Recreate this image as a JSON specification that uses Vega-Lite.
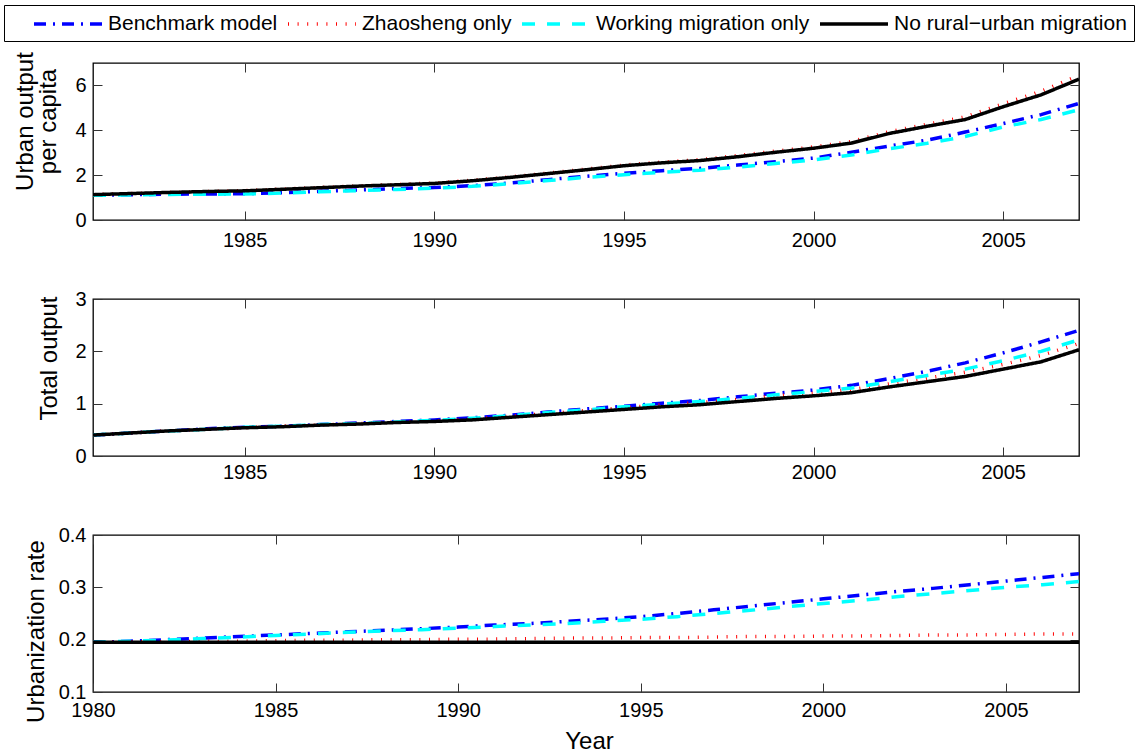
{
  "$schema": "https://vega.github.io/schema/vega-lite/v6.json",
  "background": "white",
  "padding": {"left": 3, "top": 4, "right": 0, "bottom": 0},
  "spacing": 79,
  "bounds": "flush",
  "datasets": {
    "top": [
      {"year": 1981, "Benchmark model": 1.10, "Zhaosheng only": 1.13, "Working migration only": 1.10, "No rural−urban migration": 1.13},
      {"year": 1982, "Benchmark model": 1.13, "Zhaosheng only": 1.18, "Working migration only": 1.12, "No rural−urban migration": 1.18},
      {"year": 1983, "Benchmark model": 1.15, "Zhaosheng only": 1.23, "Working migration only": 1.14, "No rural−urban migration": 1.23},
      {"year": 1984, "Benchmark model": 1.16, "Zhaosheng only": 1.27, "Working migration only": 1.15, "No rural−urban migration": 1.27},
      {"year": 1985, "Benchmark model": 1.17, "Zhaosheng only": 1.31, "Working migration only": 1.16, "No rural−urban migration": 1.30},
      {"year": 1986, "Benchmark model": 1.22, "Zhaosheng only": 1.38, "Working migration only": 1.20, "No rural−urban migration": 1.37},
      {"year": 1987, "Benchmark model": 1.28, "Zhaosheng only": 1.45, "Working migration only": 1.26, "No rural−urban migration": 1.44},
      {"year": 1988, "Benchmark model": 1.34, "Zhaosheng only": 1.52, "Working migration only": 1.31, "No rural−urban migration": 1.51},
      {"year": 1989, "Benchmark model": 1.40, "Zhaosheng only": 1.58, "Working migration only": 1.36, "No rural−urban migration": 1.57},
      {"year": 1990, "Benchmark model": 1.45, "Zhaosheng only": 1.65, "Working migration only": 1.42, "No rural−urban migration": 1.63},
      {"year": 1991, "Benchmark model": 1.53, "Zhaosheng only": 1.77, "Working migration only": 1.50, "No rural−urban migration": 1.75},
      {"year": 1992, "Benchmark model": 1.65, "Zhaosheng only": 1.92, "Working migration only": 1.62, "No rural−urban migration": 1.90},
      {"year": 1993, "Benchmark model": 1.80, "Zhaosheng only": 2.09, "Working migration only": 1.76, "No rural−urban migration": 2.07},
      {"year": 1994, "Benchmark model": 1.95, "Zhaosheng only": 2.27, "Working migration only": 1.90, "No rural−urban migration": 2.24},
      {"year": 1995, "Benchmark model": 2.08, "Zhaosheng only": 2.45, "Working migration only": 2.02, "No rural−urban migration": 2.42},
      {"year": 1996, "Benchmark model": 2.20, "Zhaosheng only": 2.58, "Working migration only": 2.13, "No rural−urban migration": 2.55},
      {"year": 1997, "Benchmark model": 2.30, "Zhaosheng only": 2.69, "Working migration only": 2.22, "No rural−urban migration": 2.65},
      {"year": 1998, "Benchmark model": 2.45, "Zhaosheng only": 2.87, "Working migration only": 2.36, "No rural−urban migration": 2.82},
      {"year": 1999, "Benchmark model": 2.60, "Zhaosheng only": 3.07, "Working migration only": 2.52, "No rural−urban migration": 3.02},
      {"year": 2000, "Benchmark model": 2.76, "Zhaosheng only": 3.26, "Working migration only": 2.68, "No rural−urban migration": 3.20},
      {"year": 2001, "Benchmark model": 3.02, "Zhaosheng only": 3.50, "Working migration only": 2.90, "No rural−urban migration": 3.43},
      {"year": 2002, "Benchmark model": 3.30, "Zhaosheng only": 3.94, "Working migration only": 3.18, "No rural−urban migration": 3.86},
      {"year": 2003, "Benchmark model": 3.56, "Zhaosheng only": 4.27, "Working migration only": 3.42, "No rural−urban migration": 4.18},
      {"year": 2004, "Benchmark model": 3.92, "Zhaosheng only": 4.60, "Working migration only": 3.72, "No rural−urban migration": 4.48},
      {"year": 2005, "Benchmark model": 4.30, "Zhaosheng only": 5.18, "Working migration only": 4.15, "No rural−urban migration": 5.05},
      {"year": 2006, "Benchmark model": 4.70, "Zhaosheng only": 5.74, "Working migration only": 4.48, "No rural−urban migration": 5.58},
      {"year": 2007, "Benchmark model": 5.20, "Zhaosheng only": 6.45, "Working migration only": 4.92, "No rural−urban migration": 6.28}
    ],
    "mid": [
      {"year": 1981, "Benchmark model": 0.40, "Zhaosheng only": 0.40, "Working migration only": 0.40, "No rural−urban migration": 0.40},
      {"year": 1982, "Benchmark model": 0.44, "Zhaosheng only": 0.44, "Working migration only": 0.44, "No rural−urban migration": 0.44},
      {"year": 1983, "Benchmark model": 0.48, "Zhaosheng only": 0.48, "Working migration only": 0.48, "No rural−urban migration": 0.48},
      {"year": 1984, "Benchmark model": 0.52, "Zhaosheng only": 0.51, "Working migration only": 0.51, "No rural−urban migration": 0.51},
      {"year": 1985, "Benchmark model": 0.55, "Zhaosheng only": 0.54, "Working migration only": 0.55, "No rural−urban migration": 0.54},
      {"year": 1986, "Benchmark model": 0.57, "Zhaosheng only": 0.57, "Working migration only": 0.57, "No rural−urban migration": 0.56},
      {"year": 1987, "Benchmark model": 0.60, "Zhaosheng only": 0.59, "Working migration only": 0.60, "No rural−urban migration": 0.59},
      {"year": 1988, "Benchmark model": 0.63, "Zhaosheng only": 0.62, "Working migration only": 0.62, "No rural−urban migration": 0.61},
      {"year": 1989, "Benchmark model": 0.66, "Zhaosheng only": 0.65, "Working migration only": 0.65, "No rural−urban migration": 0.64},
      {"year": 1990, "Benchmark model": 0.69, "Zhaosheng only": 0.67, "Working migration only": 0.68, "No rural−urban migration": 0.66},
      {"year": 1991, "Benchmark model": 0.73, "Zhaosheng only": 0.71, "Working migration only": 0.72, "No rural−urban migration": 0.69},
      {"year": 1992, "Benchmark model": 0.78, "Zhaosheng only": 0.76, "Working migration only": 0.77, "No rural−urban migration": 0.74},
      {"year": 1993, "Benchmark model": 0.84, "Zhaosheng only": 0.81, "Working migration only": 0.83, "No rural−urban migration": 0.79},
      {"year": 1994, "Benchmark model": 0.90, "Zhaosheng only": 0.87, "Working migration only": 0.88, "No rural−urban migration": 0.84},
      {"year": 1995, "Benchmark model": 0.95, "Zhaosheng only": 0.92, "Working migration only": 0.94, "No rural−urban migration": 0.89},
      {"year": 1996, "Benchmark model": 1.01, "Zhaosheng only": 0.98, "Working migration only": 0.99, "No rural−urban migration": 0.94},
      {"year": 1997, "Benchmark model": 1.06, "Zhaosheng only": 1.02, "Working migration only": 1.04, "No rural−urban migration": 0.98},
      {"year": 1998, "Benchmark model": 1.13, "Zhaosheng only": 1.08, "Working migration only": 1.10, "No rural−urban migration": 1.04},
      {"year": 1999, "Benchmark model": 1.20, "Zhaosheng only": 1.15, "Working migration only": 1.17, "No rural−urban migration": 1.10},
      {"year": 2000, "Benchmark model": 1.26, "Zhaosheng only": 1.20, "Working migration only": 1.23, "No rural−urban migration": 1.15},
      {"year": 2001, "Benchmark model": 1.35, "Zhaosheng only": 1.27, "Working migration only": 1.30, "No rural−urban migration": 1.21},
      {"year": 2002, "Benchmark model": 1.48, "Zhaosheng only": 1.38, "Working migration only": 1.42, "No rural−urban migration": 1.32},
      {"year": 2003, "Benchmark model": 1.62, "Zhaosheng only": 1.49, "Working migration only": 1.54, "No rural−urban migration": 1.42},
      {"year": 2004, "Benchmark model": 1.78, "Zhaosheng only": 1.60, "Working migration only": 1.66, "No rural−urban migration": 1.52},
      {"year": 2005, "Benchmark model": 1.97, "Zhaosheng only": 1.75, "Working migration only": 1.82, "No rural−urban migration": 1.66},
      {"year": 2006, "Benchmark model": 2.18, "Zhaosheng only": 1.92, "Working migration only": 2.00, "No rural−urban migration": 1.80},
      {"year": 2007, "Benchmark model": 2.40, "Zhaosheng only": 2.15, "Working migration only": 2.22, "No rural−urban migration": 2.03}
    ],
    "bot": [
      {"year": 1980, "Benchmark model": 0.195, "Zhaosheng only": 0.195, "Working migration only": 0.195, "No rural−urban migration": 0.195},
      {"year": 1981, "Benchmark model": 0.197, "Zhaosheng only": 0.196, "Working migration only": 0.197, "No rural−urban migration": 0.195},
      {"year": 1982, "Benchmark model": 0.200, "Zhaosheng only": 0.196, "Working migration only": 0.199, "No rural−urban migration": 0.195},
      {"year": 1983, "Benchmark model": 0.203, "Zhaosheng only": 0.197, "Working migration only": 0.202, "No rural−urban migration": 0.195},
      {"year": 1984, "Benchmark model": 0.206, "Zhaosheng only": 0.197, "Working migration only": 0.205, "No rural−urban migration": 0.195},
      {"year": 1985, "Benchmark model": 0.209, "Zhaosheng only": 0.198, "Working migration only": 0.208, "No rural−urban migration": 0.195},
      {"year": 1986, "Benchmark model": 0.212, "Zhaosheng only": 0.199, "Working migration only": 0.211, "No rural−urban migration": 0.195},
      {"year": 1987, "Benchmark model": 0.215, "Zhaosheng only": 0.199, "Working migration only": 0.214, "No rural−urban migration": 0.195},
      {"year": 1988, "Benchmark model": 0.218, "Zhaosheng only": 0.200, "Working migration only": 0.217, "No rural−urban migration": 0.195},
      {"year": 1989, "Benchmark model": 0.221, "Zhaosheng only": 0.200, "Working migration only": 0.219, "No rural−urban migration": 0.195},
      {"year": 1990, "Benchmark model": 0.224, "Zhaosheng only": 0.201, "Working migration only": 0.222, "No rural−urban migration": 0.195},
      {"year": 1991, "Benchmark model": 0.228, "Zhaosheng only": 0.201, "Working migration only": 0.225, "No rural−urban migration": 0.195},
      {"year": 1992, "Benchmark model": 0.231, "Zhaosheng only": 0.202, "Working migration only": 0.228, "No rural−urban migration": 0.195},
      {"year": 1993, "Benchmark model": 0.235, "Zhaosheng only": 0.203, "Working migration only": 0.231, "No rural−urban migration": 0.195},
      {"year": 1994, "Benchmark model": 0.239, "Zhaosheng only": 0.203, "Working migration only": 0.235, "No rural−urban migration": 0.195},
      {"year": 1995, "Benchmark model": 0.244, "Zhaosheng only": 0.204, "Working migration only": 0.239, "No rural−urban migration": 0.195},
      {"year": 1996, "Benchmark model": 0.250, "Zhaosheng only": 0.204, "Working migration only": 0.244, "No rural−urban migration": 0.195},
      {"year": 1997, "Benchmark model": 0.257, "Zhaosheng only": 0.205, "Working migration only": 0.250, "No rural−urban migration": 0.195},
      {"year": 1998, "Benchmark model": 0.264, "Zhaosheng only": 0.206, "Working migration only": 0.256, "No rural−urban migration": 0.195},
      {"year": 1999, "Benchmark model": 0.271, "Zhaosheng only": 0.206, "Working migration only": 0.263, "No rural−urban migration": 0.195},
      {"year": 2000, "Benchmark model": 0.278, "Zhaosheng only": 0.207, "Working migration only": 0.269, "No rural−urban migration": 0.195},
      {"year": 2001, "Benchmark model": 0.285, "Zhaosheng only": 0.207, "Working migration only": 0.275, "No rural−urban migration": 0.195},
      {"year": 2002, "Benchmark model": 0.292, "Zhaosheng only": 0.208, "Working migration only": 0.282, "No rural−urban migration": 0.195},
      {"year": 2003, "Benchmark model": 0.298, "Zhaosheng only": 0.209, "Working migration only": 0.288, "No rural−urban migration": 0.195},
      {"year": 2004, "Benchmark model": 0.305, "Zhaosheng only": 0.209, "Working migration only": 0.294, "No rural−urban migration": 0.195},
      {"year": 2005, "Benchmark model": 0.312, "Zhaosheng only": 0.210, "Working migration only": 0.300, "No rural−urban migration": 0.195},
      {"year": 2006, "Benchmark model": 0.319, "Zhaosheng only": 0.211, "Working migration only": 0.305, "No rural−urban migration": 0.195},
      {"year": 2007, "Benchmark model": 0.326, "Zhaosheng only": 0.211, "Working migration only": 0.311, "No rural−urban migration": 0.195}
    ]
  },
  "vconcat": [
    {
      "width": 986, "height": 157,
      "data": {"name": "top"},
      "transform": [{"fold": ["Benchmark model", "Zhaosheng only", "Working migration only", "No rural−urban migration"], "as": ["series", "value"]}],
      "layer": [
        {
          "mark": {"type": "line", "strokeWidth": 3.5, "clip": true},
          "encoding": {
            "x": {"field": "year", "type": "quantitative", "scale": {"domain": [1981, 2007], "nice": false, "zero": false},
                  "axis": {"orient": "bottom", "values": [1985, 1990, 1995, 2000, 2005], "format": "d", "title": null, "labelPadding": 19}},
            "y": {"field": "value", "type": "quantitative", "scale": {"domain": [0, 7], "nice": false},
                  "axis": {"orient": "left", "values": [0, 2, 4, 6], "title": ["Urban output", "per capita"], "titleX": -68, "titleY": 58}},
            "color": {"field": "series", "type": "nominal",
                      "scale": {"domain": ["Benchmark model", "Zhaosheng only", "Working migration only", "No rural−urban migration"], "range": ["#0000ff", "#ff0000", "#00ffff", "#000000"]},
                      "legend": {"title": " ", "orient": "none", "legendX": -89, "legendY": -58, "direction": "horizontal", "columns": 4}},
            "strokeDash": {"field": "series", "type": "nominal",
                      "scale": {"domain": ["Benchmark model", "Zhaosheng only", "Working migration only", "No rural−urban migration"], "range": [[12, 7, 2, 7], [1, 8.6], [13, 12], [1, 0]]},
                      "legend": {"title": " ", "orient": "none", "legendX": -89, "legendY": -58, "direction": "horizontal", "columns": 4}}
          }
        },
        {
          "mark": {"type": "point", "opacity": 0},
          "encoding": {
            "x": {"field": "year", "type": "quantitative", "axis": {"orient": "top", "labels": false, "values": [1985, 1990, 1995, 2000, 2005], "title": null}},
            "y": {"field": "value", "type": "quantitative", "axis": {"orient": "right", "labels": false, "values": [0, 2, 4, 6], "title": null}}
          }
        }
      ],
      "resolve": {"axis": {"x": "independent", "y": "independent"}}
    },
    {
      "width": 986, "height": 157,
      "data": {"name": "mid"},
      "transform": [{"fold": ["Benchmark model", "Zhaosheng only", "Working migration only", "No rural−urban migration"], "as": ["series", "value"]}],
      "layer": [
        {
          "mark": {"type": "line", "strokeWidth": 3.5, "clip": true},
          "encoding": {
            "x": {"field": "year", "type": "quantitative", "scale": {"domain": [1981, 2007], "nice": false, "zero": false},
                  "axis": {"orient": "bottom", "values": [1985, 1990, 1995, 2000, 2005], "format": "d", "title": null, "labelPadding": 15}},
            "y": {"field": "value", "type": "quantitative", "scale": {"domain": [0, 3], "nice": false},
                  "axis": {"orient": "left", "values": [0, 1, 2, 3], "title": "Total output", "titleX": -44, "titleY": 59}},
            "color": {"field": "series", "type": "nominal"},
            "strokeDash": {"field": "series", "type": "nominal"}
          }
        },
        {
          "mark": {"type": "point", "opacity": 0},
          "encoding": {
            "x": {"field": "year", "type": "quantitative", "axis": {"orient": "top", "labels": false, "values": [1985, 1990, 1995, 2000, 2005], "title": null}},
            "y": {"field": "value", "type": "quantitative", "axis": {"orient": "right", "labels": false, "values": [0, 1, 2, 3], "title": null}}
          }
        }
      ],
      "resolve": {"axis": {"x": "independent", "y": "independent"}}
    },
    {
      "width": 986, "height": 157,
      "data": {"name": "bot"},
      "transform": [{"fold": ["Benchmark model", "Zhaosheng only", "Working migration only", "No rural−urban migration"], "as": ["series", "value"]}],
      "layer": [
        {
          "mark": {"type": "line", "strokeWidth": 3.5, "clip": true},
          "encoding": {
            "x": {"field": "year", "type": "quantitative", "scale": {"domain": [1980, 2007], "nice": false, "zero": false},
                  "axis": {"orient": "bottom", "values": [1980, 1985, 1990, 1995, 2000, 2005], "format": "d", "title": "Year", "titleX": 496, "titleY": 56, "titleBaseline": "alphabetic", "labelPadding": 17}},
            "y": {"field": "value", "type": "quantitative", "scale": {"domain": [0.1, 0.4], "nice": false, "zero": false},
                  "axis": {"orient": "left", "values": [0.1, 0.2, 0.3, 0.4], "format": ".1f", "title": "Urbanization rate", "titleX": -57, "titleY": 96}},
            "color": {"field": "series", "type": "nominal"},
            "strokeDash": {"field": "series", "type": "nominal"}
          }
        },
        {
          "mark": {"type": "point", "opacity": 0},
          "encoding": {
            "x": {"field": "year", "type": "quantitative", "axis": {"orient": "top", "labels": false, "values": [1980, 1985, 1990, 1995, 2000, 2005], "title": null}},
            "y": {"field": "value", "type": "quantitative", "axis": {"orient": "right", "labels": false, "values": [0.1, 0.2, 0.3, 0.4], "title": null}}
          }
        }
      ],
      "resolve": {"axis": {"x": "independent", "y": "independent"}}
    }
  ],
  "config": {
    "view": {"stroke": "#000000", "strokeWidth": 1.3},
    "axis": {
      "labelFont": "Liberation Sans", "labelFontSize": 20, "labelColor": "#000000",
      "titleFont": "Liberation Sans", "titleFontSize": 24, "titleFontWeight": "normal", "titleColor": "#000000",
      "titleAlign": "center", "titleBaseline": "middle", "titleLineHeight": 23,
      "grid": false, "domain": false, "tickColor": "#333333", "tickWidth": 1, "tickSize": -9,
      "labelFlush": false, "labelOverlap": false
    },
    "axisX": {"labelPadding": 15},
    "axisY": {"labelPadding": 16, "titleAngle": -90},
    "legend": {
      "strokeColor": "#000000", "fillColor": "#ffffff", "padding": 7, "cornerRadius": 0,
      "titleOrient": "left", "titleFontSize": 1, "titlePadding": 21,
      "symbolType": "M-1,0H5.8", "symbolSize": 400, "symbolStrokeWidth": 3.5,
      "labelFont": "Liberation Sans", "labelFontSize": 21, "labelColor": "#000000", "labelLimit": 400,
      "labelOffset": 52, "columnPadding": 3
    }
  }
}
